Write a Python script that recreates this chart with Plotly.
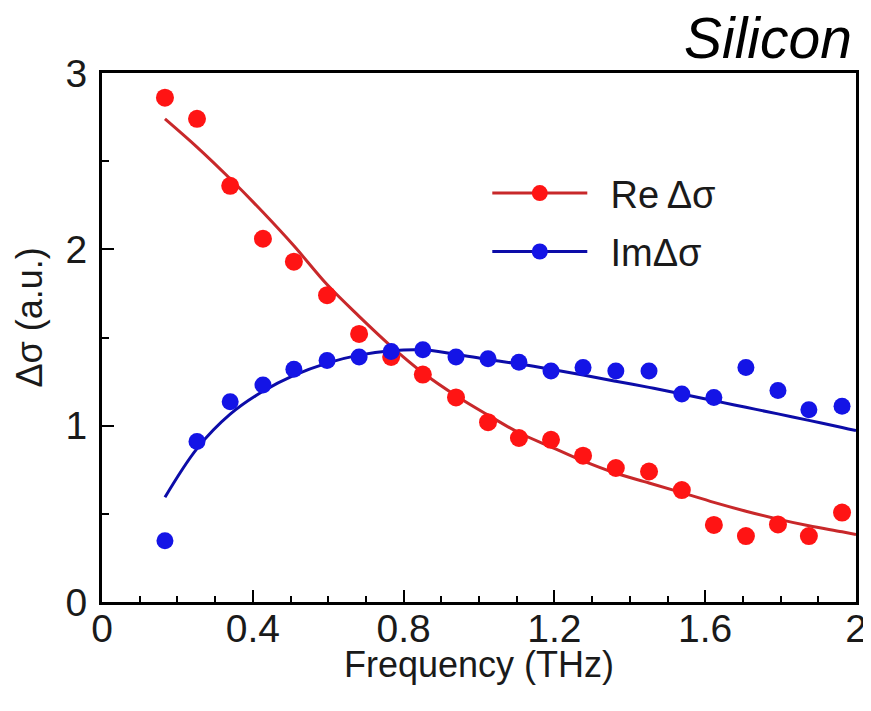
import plotly.graph_objects as go

# ---- data ----
freq = [0.167, 0.252, 0.340, 0.427, 0.509, 0.597, 0.682, 0.767, 0.851, 0.939, 1.024,
        1.106, 1.191, 1.276, 1.363, 1.451, 1.538, 1.623, 1.708, 1.793, 1.875, 1.963]
re_sigma = [2.86, 2.74, 2.36, 2.06, 1.93, 1.74, 1.52, 1.39, 1.29, 1.16, 1.02,
            0.93, 0.92, 0.83, 0.76, 0.74, 0.635, 0.437, 0.374, 0.44, 0.374, 0.507]
im_sigma = [0.348, 0.91, 1.136, 1.23, 1.32, 1.37, 1.39, 1.42, 1.43, 1.39, 1.38,
            1.36, 1.31, 1.33, 1.31, 1.31, 1.18, 1.16, 1.33, 1.20, 1.09, 1.11]

fit_freq = freq + [2.0]
re_fit = [2.74, 2.58, 2.40, 2.21, 2.02, 1.80, 1.62, 1.45, 1.30, 1.17, 1.06, 0.96,
          0.88, 0.80, 0.73, 0.675, 0.62, 0.565, 0.515, 0.47, 0.432, 0.398, 0.382]
im_fit = [0.594, 0.87, 1.065, 1.195, 1.285, 1.355, 1.40, 1.425, 1.43, 1.405, 1.375, 1.35,
          1.32, 1.287, 1.252, 1.217, 1.18, 1.142, 1.104, 1.067, 1.03, 0.99, 0.972]

x_ticks = [0, 0.4, 0.8, 1.2, 1.6, 2]
x_ticktext = ["0", "0.4", "0.8", "1.2", "1.6", "2"]
y_ticks = [0, 1, 2, 3]

series_names = ["Re\u2009\u0394\u03c3", "Im\u0394\u03c3"]

FONT = "Liberation Sans, Arial, Helvetica, sans-serif"
RED_M, RED_L = "#ff1414", "#c8282a"
BLUE_M, BLUE_L = "#1414e6", "#0c0ca8"

fig = go.Figure()

fig.add_trace(go.Scatter(x=fit_freq, y=re_fit, mode="lines", line=dict(color=RED_L, width=3, shape="spline"),
                         showlegend=False))
fig.add_trace(go.Scatter(x=fit_freq, y=im_fit, mode="lines", line=dict(color=BLUE_L, width=3, shape="spline"),
                         showlegend=False))
fig.add_trace(go.Scatter(x=freq, y=re_sigma, mode="markers",
                         marker=dict(color=RED_M, size=18, symbol="circle"), showlegend=False))
fig.add_trace(go.Scatter(x=freq, y=im_sigma, mode="markers",
                         marker=dict(color=BLUE_M, size=17, symbol="circle"), showlegend=False))

# legend-only entries (line + marker)
fig.add_trace(go.Scatter(x=[None], y=[None], mode="lines+markers", name="\u00a0\u2009" + series_names[0],
                         legendgroup="re",
                         line=dict(color=RED_L, width=3), marker=dict(color=RED_M, size=18)))
fig.add_trace(go.Scatter(x=[None], y=[None], mode="lines+markers", name="\u00a0\u2009" + series_names[1],
                         legendgroup="im",
                         line=dict(color=BLUE_L, width=3), marker=dict(color=BLUE_M, size=17)))

axis_common = dict(showline=True, linecolor="black", linewidth=3, mirror=True,
                   ticks="inside", tickcolor="black", tickwidth=2, ticklen=12,
                   showgrid=False, zeroline=False, automargin=False,
                   tickfont=dict(family=FONT, size=39, color="#1a1a1a"))

fig.update_xaxes(range=[0, 2], tickvals=x_ticks, ticktext=x_ticktext,
                 minor=dict(dtick=0.1, ticks="inside", ticklen=6, tickwidth=2, tickcolor="black"),
                 ticklabelstandoff=-10,
                 **axis_common)
fig.update_yaxes(range=[0, 3], tickvals=y_ticks,
                 minor=dict(dtick=0.5, ticks="inside", ticklen=7, tickwidth=2, tickcolor="black"),
                 ticklabelstandoff=4,
                 **axis_common)

fig.add_annotation(text="Frequency (THz)", xref="paper", yref="paper",
                   x=0.5, y=-0.118, xanchor="center", yanchor="middle", showarrow=False,
                   font=dict(family=FONT, size=36, color="#1a1a1a"))
fig.add_annotation(text="\u0394\u03c3 (a.u.)", textangle=-90, xref="paper", yref="paper",
                   x=-0.096, y=0.537, xanchor="center", yanchor="middle", showarrow=False,
                   font=dict(family=FONT, size=36, color="#1a1a1a"))
fig.add_annotation(text="Silicon", xref="paper", yref="paper", x=0.998, y=1.066,
                   xanchor="right", yanchor="middle", showarrow=False,
                   font=dict(family=FONT, size=57, color="black", style="italic"))

# page body has an 8px margin: figure sized so it fills the 871x711 window exactly
fig.update_layout(
    width=863, height=703,
    margin=dict(l=94, r=15, t=65, b=109),
    paper_bgcolor="white", plot_bgcolor="white",
    legend=dict(x=0.511, y=0.832, xanchor="left", yanchor="top", bgcolor="rgba(0,0,0,0)",
                font=dict(family=FONT, size=38, color="#1a1a1a"), itemwidth=95, tracegroupgap=6),
)

fig.write_html("out.html")
